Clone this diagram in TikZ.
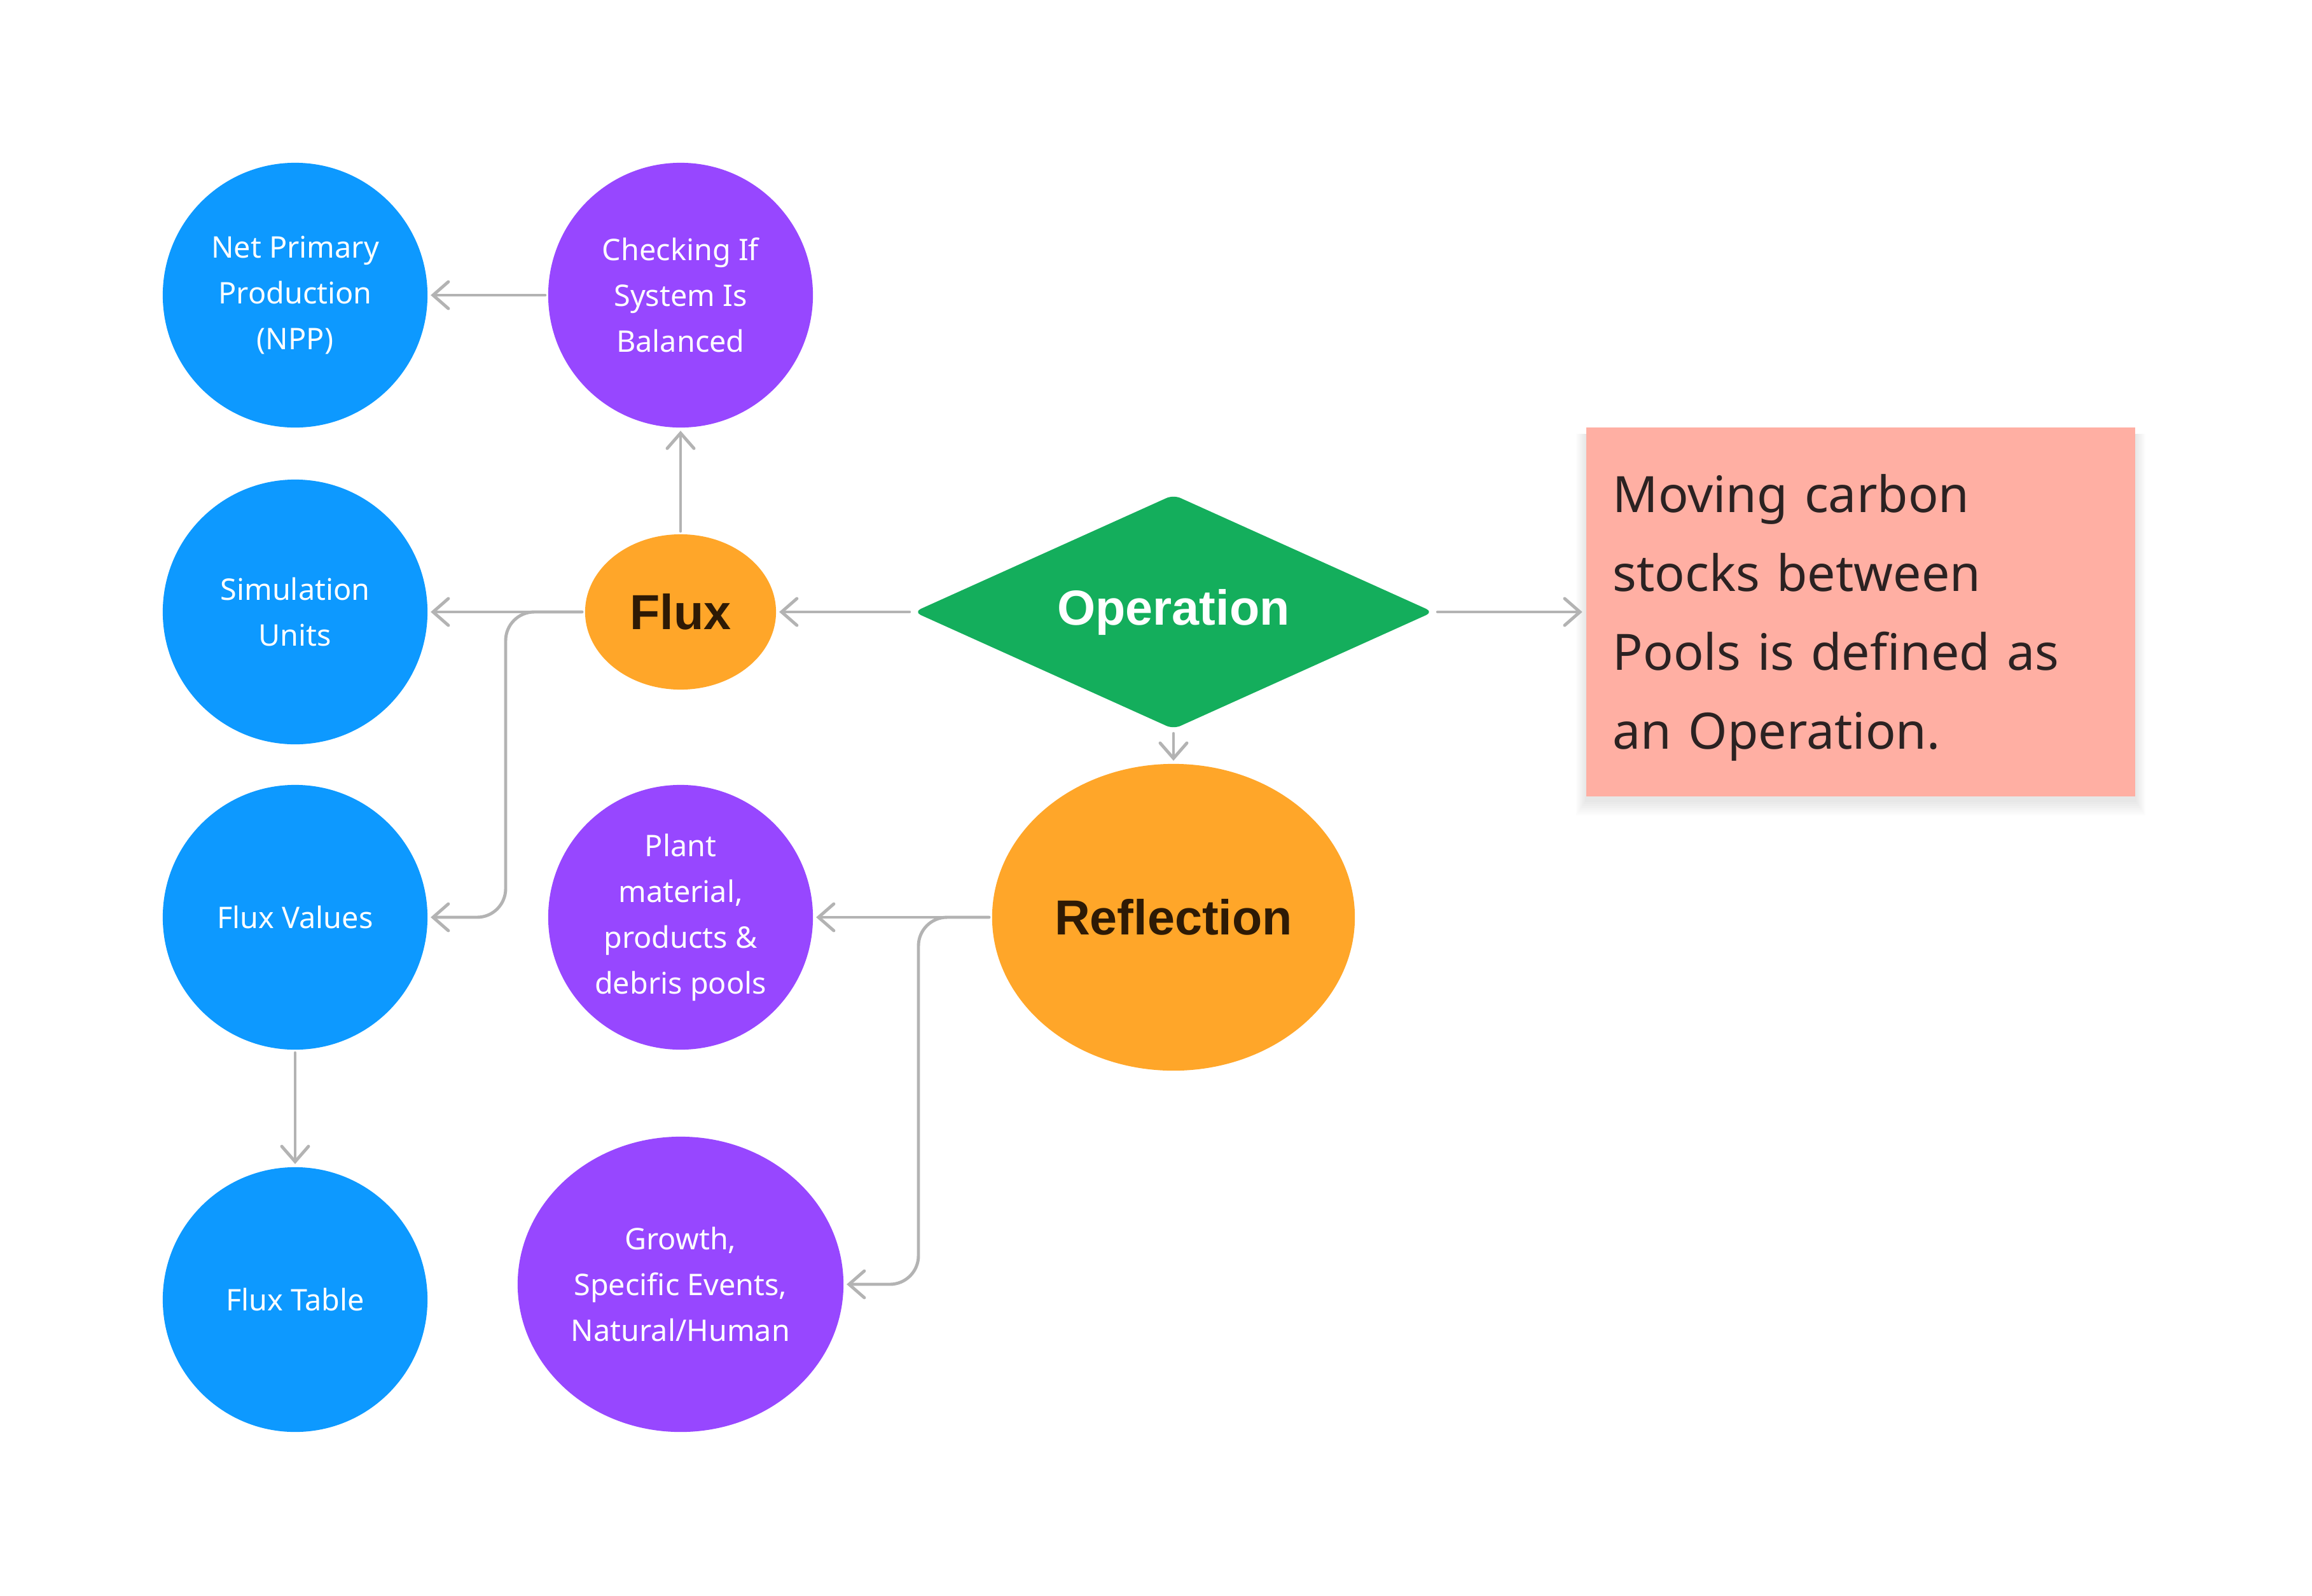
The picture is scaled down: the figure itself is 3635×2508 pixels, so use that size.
\documentclass[tikz,border=0pt]{standalone}
\usepackage{fontspec}
\setmainfont{Noto Sans}
\newfontfamily\boldlabel{Liberation Sans}
\usetikzlibrary{arrows.meta,shapes.geometric}
\definecolor{cblue}{HTML}{0D99FF}
\definecolor{cpurple}{HTML}{9747FF}
\definecolor{corange}{HTML}{FFA629}
\definecolor{cgreen}{HTML}{14AE5C}
\definecolor{cbox}{HTML}{FFAFA3}
\definecolor{cline}{HTML}{B3B3B3}
\definecolor{cdark}{HTML}{2E1A05}
\definecolor{cboxtext}{HTML}{2B2222}
\begin{document}
\begin{tikzpicture}[x=0.01cm,y=-0.01cm,
  bubble/.style={circle, inner sep=0pt, outer sep=0.05cm, minimum size=4.16cm, align=center, text=white, font=\fontsize{13.3}{20.5}\selectfont},
  bluebub/.style={bubble, fill=cblue},
  purplebub/.style={bubble, fill=cpurple},
  bigtext/.style={font=\boldlabel\bfseries\fontsize{22}{26}\selectfont},
  conn/.style={draw=cline, line width=1.4pt, line cap=round, -{Straight Barb[length=2.4mm, width=4.2mm, line cap=round]}}
]
\useasboundingbox (0,0) rectangle (3635,2508);

% shadow of the note box
\foreach \i in {1,...,8}{
  \fill[black, opacity=0.012] (2494-\i*2,672+10) rectangle (3357+\i*2,1252+6+\i*3);
}

\node[bluebub] (npp) at (464,464) {Net Primary\\Production\\(NPP)};
\node[purplebub] (chk) at (1070,464) {Checking If\\System Is\\Balanced};
\node[bluebub] (su) at (464,962) {Simulation\\Units};
\node[bluebub] (fv) at (464,1442) {Flux Values};
\node[bluebub] (ft) at (464,2043) {Flux Table};
\node[purplebub] (plant) at (1070,1442) {Plant\\material,\\products \&\\debris pools};
\node[ellipse, fill=cpurple, inner sep=0pt, outer sep=0.05cm, minimum width=5.12cm, minimum height=4.64cm, align=center, text=white, font=\fontsize{13.3}{20.5}\selectfont] (grow) at (1070,2019) {Growth,\\Specific Events,\\Natural/Human};

\node[ellipse, fill=corange, inner sep=0pt, outer sep=0.05cm, minimum width=3.0cm, minimum height=2.44cm, text=cdark, bigtext] (flux) at (1070,962) {Flux};
\node[diamond, shape aspect=2.45, fill=cgreen, inner sep=0pt, outer sep=0.05cm, minimum width=8.2cm, minimum height=3.72cm, rounded corners=0.12cm, text=white, bigtext] (op) at (1845,962) {Operation};
\node[ellipse, fill=corange, inner sep=0pt, outer sep=0.05cm, minimum width=5.7cm, minimum height=4.82cm, text=cdark, bigtext] (refl) at (1845,1442) {Reflection};

\node[rectangle, fill=cbox, inner sep=0pt, outer sep=0.06cm, minimum width=8.63cm, minimum height=5.8cm] (note) at (2925.5,962) {};
\node[inner sep=0pt, text width=7.79cm, align=left, text=cboxtext, font=\fontsize{22.4}{35.3}\selectfont] (notetext) at (2925.5,971) {Moving carbon\\stocks between\\Pools is defined as\\an Operation.};

\coordinate (fb) at (795,1442);
\coordinate (rb) at (1444,2019);

\draw[conn] (chk.west) -- (npp.east);
\draw[conn] (flux.north) -- (chk.south);
\draw[conn] (flux.west) -- (su.east);
\draw[conn, rounded corners=0.45cm] (flux.west) -| (fb) -- (fv.east);
\draw[conn] (fv.south) -- (ft.north);
\draw[conn] (op.west) -- (flux.east);
\draw[conn] (op.east) -- (note.west);
\draw[conn] (op.south) -- (refl.north);
\draw[conn] (refl.west) -- (plant.east);
\draw[conn, rounded corners=0.45cm] (refl.west) -| (rb) -- (grow.east);
\end{tikzpicture}
\end{document}
